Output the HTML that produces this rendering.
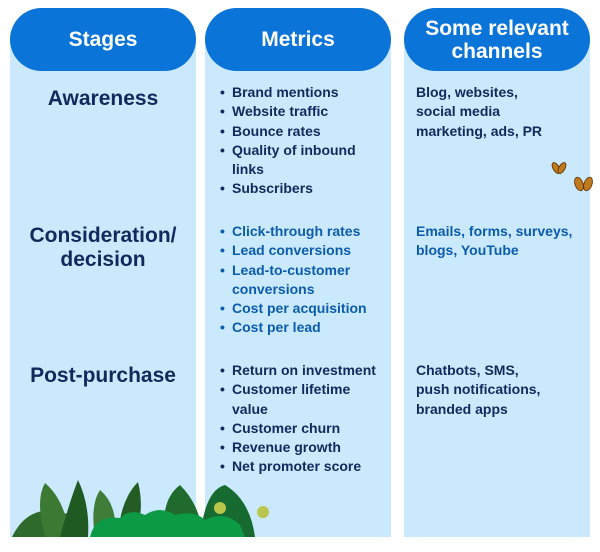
<!DOCTYPE html>
<html><head><style>
body{margin:0;width:600px;height:552px;background:#fff;position:relative;font-family:"Liberation Sans",sans-serif;overflow:hidden}
.col{position:absolute;top:8px;height:529px;background:#cbe9fc;border-radius:32px 32px 0 0}
.hd{position:absolute;top:8px;height:63px;background:#0a74d8;border-radius:32px;color:#fff;font-weight:bold;font-size:21px;text-align:center;display:flex;align-items:center;justify-content:center;line-height:23px}
.t{position:absolute;font-weight:bold;font-size:14px;line-height:19.3px;color:#0f2a5c;white-space:nowrap}
.b{color:#0b5cad}
.st{position:absolute;font-weight:bold;font-size:21px;line-height:24px;text-align:center;color:#0f2a5c}
ul{margin:0;padding:0;list-style:none}
li{position:relative;padding-left:12px}
li:before{content:"•";position:absolute;left:0}
</style></head><body>
<div class="col" style="left:10px;width:186px"></div>
<div class="col" style="left:205px;width:186px"></div>
<div class="col" style="left:404px;width:186px"></div>
<div class="hd" style="left:10px;width:186px">Stages</div>
<div class="hd" style="left:205px;width:186px">Metrics</div>
<div class="hd" style="left:404px;width:186px">Some relevant<br>channels</div>

<div class="st" style="left:10px;width:186px;top:87px">Awareness</div>
<div class="st b" style="left:10px;width:186px;top:224px">Consideration/<br>decision</div>
<div class="st" style="left:10px;width:186px;top:364px">Post-purchase</div>

<ul class="t" style="left:220px;top:83px"><li>Brand mentions</li><li>Website traffic</li><li>Bounce rates</li><li>Quality of inbound<br>links</li><li>Subscribers</li></ul>
<ul class="t b" style="left:220px;top:222px"><li>Click-through rates</li><li>Lead conversions</li><li>Lead-to-customer<br>conversions</li><li>Cost per acquisition</li><li>Cost per lead</li></ul>
<ul class="t" style="left:220px;top:361px"><li>Return on investment</li><li>Customer lifetime<br>value</li><li>Customer churn</li><li>Revenue growth</li><li>Net promoter score</li></ul>

<div class="t" style="left:416px;top:83px">Blog, websites,<br>social media<br>marketing, ads, PR</div>
<div class="t b" style="left:416px;top:222px">Emails, forms, surveys,<br>blogs, YouTube</div>
<div class="t" style="left:416px;top:361px">Chatbots, SMS,<br>push notifications,<br>branded apps</div>

<svg style="position:absolute;left:0;top:0" width="600" height="552">
<g fill="#c07a1e" stroke="#5a3000" stroke-width="0.8">
<ellipse cx="556" cy="168" rx="3" ry="6" transform="rotate(-30 556 168)"/>
<ellipse cx="562" cy="168" rx="3" ry="6" transform="rotate(30 562 168)"/>
<ellipse cx="579" cy="184" rx="4" ry="7" transform="rotate(-20 579 184)"/>
<ellipse cx="588" cy="184" rx="4" ry="7" transform="rotate(20 588 184)"/>
</g>
<g>
<path d="M12 537 Q30 500 70 515 L60 537 Z" fill="#2e6a2c"/>
<path d="M45 537 Q35 500 45 483 Q65 500 70 537 Z" fill="#3c7a34"/>
<path d="M60 537 Q70 500 78 480 Q90 505 88 537 Z" fill="#1f5a22"/>
<path d="M95 537 Q90 505 100 490 Q118 505 115 537 Z" fill="#3f7d39"/>
<path d="M118 537 Q120 500 138 482 Q145 510 135 537 Z" fill="#245c25"/>
<path d="M165 537 Q160 500 180 485 Q195 500 200 520 L205 537 Z" fill="#1f6a2c"/>
<path d="M200 537 Q205 490 225 485 Q250 500 255 537 Z" fill="#176b30"/>
<path d="M90 537 Q95 515 120 518 Q130 508 145 515 Q160 505 175 515 Q195 510 205 520 Q225 510 240 525 L245 537 Z" fill="#0d9a45"/>
<circle cx="220" cy="508" r="6" fill="#b8c64c"/>
<circle cx="263" cy="512" r="6" fill="#b8c64c"/>
</g>
</svg>
</body></html>
